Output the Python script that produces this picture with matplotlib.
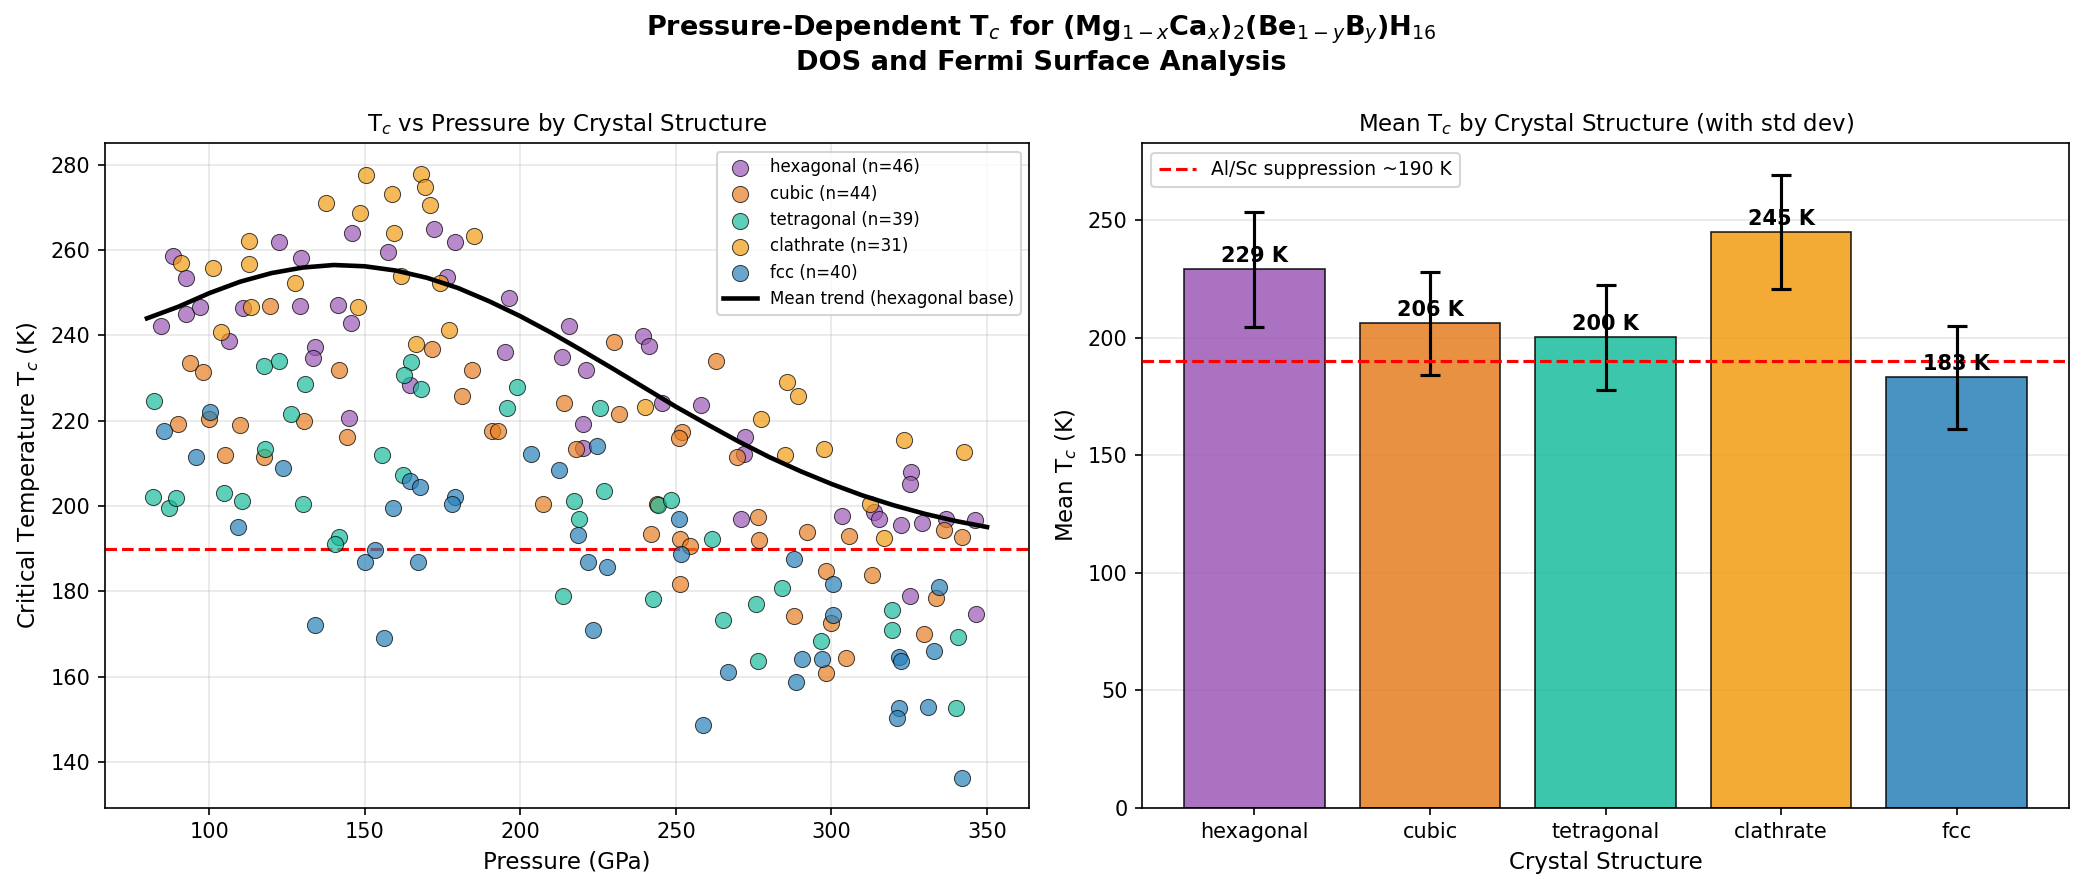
import matplotlib
matplotlib.use("Agg")
import matplotlib.pyplot as plt

# ---------------- data ----------------
hex_p = [88.5, 92.6, 84.5, 92.4, 97.1, 111.0, 106.5, 122.3, 129.6, 129.3, 134.1, 133.3, 141.3, 145.5,
         145.8, 157.4, 164.5, 144.8, 172.2, 178.9, 176.4, 196.5, 195.2, 215.7, 213.3, 221.2, 239.5,
         241.4, 245.5, 258.1, 220.0, 220.2, 272.3, 272.0, 271.0, 325.6, 325.2, 303.5, 313.8, 315.2,
         322.4, 329.1, 336.9, 346.1, 325.2, 346.5]
hex_t = [258.6, 253.4, 242.1, 245.0, 246.6, 246.4, 238.6, 261.8, 258.1, 246.8, 237.4, 234.6, 247.1, 242.9,
         263.9, 259.5, 228.5, 220.7, 264.9, 261.9, 253.8, 248.7, 236.1, 242.3, 234.9, 231.9, 239.8,
         237.5, 224.2, 223.8, 219.3, 213.7, 216.3, 212.1, 197.0, 207.9, 205.3, 197.7, 198.7, 196.9,
         195.6, 196.0, 197.1, 196.7, 179.0, 174.7]

cub_p = [93.9, 97.9, 119.4, 141.8, 90.1, 100.0, 109.8, 130.6, 144.4, 105.2, 117.7, 171.5, 184.4, 181.2,
         190.8, 192.7, 214.1, 230.0, 231.6, 217.8, 252.1, 251.1, 263.0, 269.8, 207.4, 243.9, 241.9,
         251.2, 254.5, 251.2, 276.5, 276.8, 292.0, 305.5, 336.1, 342.0, 298.2, 313.0, 333.7, 288.1,
         299.9, 329.7, 304.6, 298.2]
cub_t = [233.5, 231.4, 246.8, 231.8, 219.3, 220.3, 219.1, 220.0, 216.2, 211.9, 211.4, 236.9, 231.8, 225.9,
         217.7, 217.6, 224.2, 238.4, 221.5, 213.5, 217.4, 215.9, 234.1, 211.4, 200.5, 200.6, 193.5,
         192.3, 190.7, 181.8, 197.5, 192.1, 194.0, 193.0, 194.4, 192.7, 184.8, 183.8, 178.4, 174.3,
         172.5, 170.1, 164.3, 160.8]

tet_p = [82.1, 117.5, 122.3, 130.7, 126.2, 118.0, 155.4, 165.0, 162.6, 168.2, 162.3, 81.8, 87.0, 89.4,
         104.6, 110.7, 130.0, 141.8, 140.3, 198.8, 195.6, 225.7, 217.3, 219.0, 226.8, 213.8, 244.4,
         248.4, 242.5, 261.5, 265.0, 284.0, 275.9, 296.6, 276.5, 319.4, 319.4, 340.8, 340.1]
tet_t = [224.7, 232.8, 234.1, 228.7, 221.7, 213.3, 211.9, 233.8, 230.8, 227.5, 207.2, 202.2, 199.6, 201.9,
         203.0, 201.2, 200.6, 192.8, 191.1, 228.0, 222.9, 222.9, 201.2, 196.9, 203.5, 179.0, 200.2,
         201.4, 178.3, 192.3, 173.4, 180.8, 177.0, 168.4, 163.7, 175.7, 171.0, 169.4, 152.8]

cla_p = [91.0, 101.1, 112.7, 112.7, 127.5, 113.3, 103.9, 147.7, 137.7, 150.3, 148.4, 158.6, 159.3, 161.6,
         166.5, 168.2, 169.3, 171.0, 185.0, 174.3, 177.0, 240.0, 285.6, 289.1, 277.5, 285.1, 297.7,
         323.3, 342.7, 312.3, 316.8]
cla_t = [256.9, 255.7, 262.2, 256.7, 252.3, 246.6, 240.8, 246.6, 271.1, 277.7, 268.6, 273.2, 263.9, 254.0,
         238.1, 277.9, 274.8, 270.5, 263.3, 252.2, 241.2, 223.3, 229.1, 225.9, 220.5, 211.9, 213.3,
         215.6, 212.8, 200.5, 192.5]

fcc_p = [85.6, 100.3, 95.9, 123.8, 164.5, 167.9, 109.4, 133.9, 150.0, 153.4, 156.1, 159.0, 167.1, 203.3,
         212.3, 224.8, 179.1, 178.0, 218.4, 221.6, 227.7, 223.2, 250.9, 251.8, 266.6, 258.8, 288.1,
         300.6, 300.6, 334.6, 290.5, 296.9, 288.5, 321.8, 322.4, 332.9, 321.6, 321.0, 331.1, 342.0]
fcc_t = [217.6, 222.0, 211.4, 208.9, 205.9, 204.5, 195.0, 172.2, 186.8, 189.7, 169.1, 199.5, 186.9, 212.1,
         208.4, 214.2, 202.2, 200.6, 193.2, 186.9, 185.7, 171.0, 196.9, 188.8, 161.2, 148.6, 187.5,
         181.7, 174.6, 181.0, 164.2, 164.2, 158.8, 164.6, 163.7, 166.1, 152.8, 150.3, 153.0, 136.4]

trend_p = [80, 90, 100, 110, 120, 130, 140, 150, 160, 170, 180, 190, 200, 210, 220, 230, 240,
           250, 260, 270, 280, 290, 300, 310, 320, 330, 340, 350]
trend_t = [244.0, 246.7, 249.9, 252.6, 254.6, 255.9, 256.5, 256.2, 255.2, 253.5, 251.1, 248.0,
           244.5, 240.6, 236.4, 232.1, 227.7, 223.3, 219.2, 215.2, 211.5, 208.2, 205.2, 202.5,
           200.2, 198.2, 196.5, 195.1]

structures = ["hexagonal", "cubic", "tetragonal", "clathrate", "fcc"]
colors = ["#9B59B6", "#E67E22", "#1ABC9C", "#F39C12", "#2980B9"]
mean_tc = [229.3, 206.2, 200.3, 245.0, 183.2]
std_tc = [24.5, 22.0, 22.3, 24.3, 22.0]
suppression = 190

# ---------------- figure ----------------
fig = plt.figure(figsize=(2083 / 150, 889 / 150), dpi=150)
ax1 = fig.add_axes([0.0504, 0.0914, 0.4436, 0.7472])
ax2 = fig.add_axes([0.5483, 0.0914, 0.4450, 0.7472])

series = [(hex_p, hex_t), (cub_p, cub_t), (tet_p, tet_t), (cla_p, cla_t), (fcc_p, fcc_t)]
for name, col, (p, t) in zip(structures, colors, series):
    ax1.scatter(p, t, s=60, color=col, alpha=0.7, edgecolors="black", linewidths=0.5,
                label=f"{name} (n={len(p)})", zorder=3)
ax1.plot(trend_p, trend_t, color="black", linewidth=2.2, label="Mean trend (hexagonal base)", zorder=4)
ax1.axhline(suppression, color="red", linestyle="--", linewidth=1.5, zorder=2)
ax1.set_xlabel("Pressure (GPa)", fontsize=11)
ax1.set_ylabel("Critical Temperature T$_c$ (K)", fontsize=11)
ax1.set_title("T$_c$ vs Pressure by Crystal Structure", fontsize=11)
ax1.grid(True, alpha=0.3)
ax1.legend(loc="upper right", fontsize=8)

x = list(range(len(structures)))
ax2.bar(x, mean_tc, yerr=std_tc, color=colors, alpha=0.85, edgecolor="black", linewidth=0.8,
        capsize=5, error_kw={"elinewidth": 1.5, "capthick": 1.5}, zorder=2)
ax2.axhline(suppression, color="red", linestyle="--", linewidth=1.5, label="Al/Sc suppression ~190 K", zorder=3)
for xi, m in zip(x, mean_tc):
    ax2.text(xi, m + 1.5, f"{m:.0f} K", ha="center", va="bottom", fontsize=10, fontweight="bold", zorder=4)
ax2.set_xticks(x)
ax2.set_xticklabels(structures)
ax2.set_xlabel("Crystal Structure", fontsize=11)
ax2.set_ylabel("Mean T$_c$ (K)", fontsize=11)
ax2.set_title("Mean T$_c$ by Crystal Structure (with std dev)", fontsize=11)
ax2.grid(True, axis="y", alpha=0.3)
ax2.legend(loc="upper left", fontsize=9)

fig.suptitle("Pressure-Dependent T$_c$ for (Mg$_{1-x}$Ca$_x$)$_2$(Be$_{1-y}$B$_y$)H$_{16}$\n"
             "DOS and Fermi Surface Analysis", fontsize=13, fontweight="bold", y=0.985)

fig.savefig("out.png", dpi=150)
